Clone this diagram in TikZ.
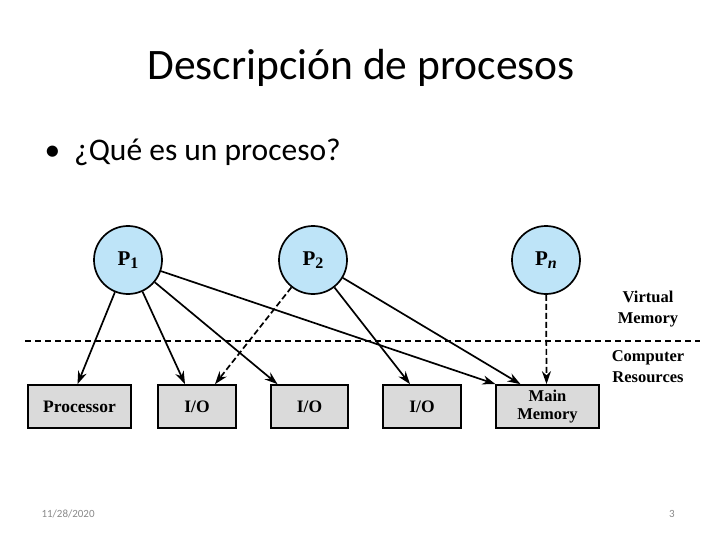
\documentclass[tikz,border=0pt]{standalone}
\usepackage{fontspec}
\setmainfont{Carlito}
\newfontfamily\figfont{Liberation Serif}
\usepackage{tikz}
\usetikzlibrary{arrows.meta,calc,positioning}

\definecolor{procblue}{RGB}{190,228,248}
\definecolor{resgray}{RGB}{218,218,218}
\definecolor{footgray}{RGB}{137,137,137}

% subscript of a process name
\newcommand{\psub}[1]{\raisebox{-0.35ex}{\fontsize{16}{16}\selectfont #1}}

\begin{document}
\begin{tikzpicture}[
    x=1pt, y=-1pt,
    proc/.style={circle,draw,line width=1.7pt,fill=procblue,minimum size=68pt,inner sep=0pt,
        font=\figfont\fontsize{21}{22}\selectfont\bfseries},
    res/.style={rectangle,draw,line width=1.7pt,fill=resgray,minimum height=43pt,inner sep=0pt,
        align=center,font=\figfont\fontsize{17.5}{17}\selectfont\bfseries},
    side/.style={align=center,font=\figfont\fontsize{16.5}{21}\selectfont\bfseries},
    arr/.style={draw,line width=1.7pt,-{Stealth[length=13pt,width=9pt]}},
    darr/.style={arr,dash pattern=on 6pt off 3pt}
]
    \useasboundingbox (0,0) rectangle (720,540);

    % slide text
    \node (title) at (361,68) {\fontsize{43.5}{46}\selectfont Descripción de procesos};
    \node[anchor=west] (bullet) at (41,152) {\fontsize{31.5}{34}\selectfont •\hspace{14pt}¿Qué es un proceso?};
    \node[anchor=west,text=footgray] (date) at (38,514) {\fontsize{11}{12}\selectfont 11/28/2020};
    \node[text=footgray] (page) at (672,514) {\fontsize{11}{12}\selectfont 3};

    % processes
    \node[proc] (p1) at (128,260) {P\psub{1}};
    \node[proc] (p2) at (313,260) {P\psub{2}};
    \node[proc] (pn) at (546,260) {P\psub{\textit{n}}};

    % computer resources
    \node[res,minimum width=103pt] (cpu) at (79.5,406.5) {Processor};
    \node[res,minimum width=78pt] (io1) at (197,406.5) {I/O};
    \node[res,minimum width=77pt] (io2) at (309.5,406.5) {I/O};
    \node[res,minimum width=78pt] (io3) at (422,406.5) {I/O};
    \node[res,minimum width=103pt,font=\figfont\fontsize{16.5}{17.5}\selectfont\bfseries] (mem) at (547.5,406.5) {Main\\Memory};

    % boundary
    \coordinate (bl) at (25,341);
    \coordinate (br) at (700,341);
    \draw[line width=1.1pt,dash pattern=on 6pt off 4pt] (bl) -- (br);
    \node[side] (vm) at (648,309) {Virtual\\Memory};
    \node[side] (cr) at (648,367) {Computer\\Resources};

    % mappings
    \draw[arr] (p1) -- ([xshift=-2pt]cpu.north);
    \draw[arr] (p1) -- ([xshift=-12pt]io1.north);
    \draw[arr] (p1) -- ([xshift=-32pt]io2.north);
    \draw[arr] (p1) -- ([xshift=-52pt]mem.north);
    \draw[darr] (p2) -- ([xshift=18pt]io1.north);
    \draw[arr] (p2) -- ([xshift=-12pt]io3.north);
    \draw[arr] (p2) -- ([xshift=-27pt]mem.north);
    \draw[darr] (pn) -- ([xshift=-1pt]mem.north);
\end{tikzpicture}
\end{document}
